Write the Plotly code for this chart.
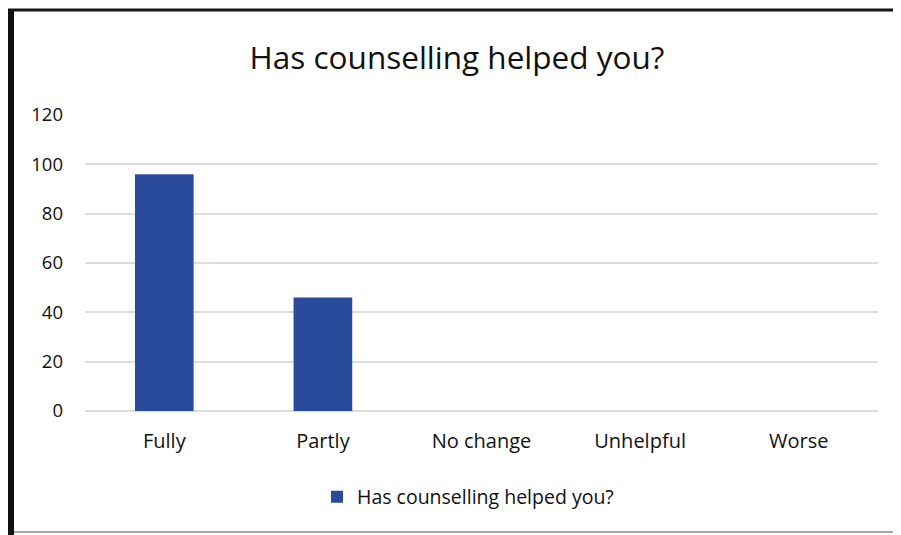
import plotly.graph_objects as go

categories = ["Fully", "Partly", "No change", "Unhelpful", "Worse"]
values = [96, 46, 0, 0, 0]
series_name = "Has counselling helped you?"
title_text = "Has counselling helped you?"
y_ticks = [0, 20, 40, 60, 80, 100, 120]

# page body has an 8px margin; compensate so the chart lands where the scan has it
OFF = 8
W, H = 901 - OFF, 535 - OFF
L, R, T, B = 85 - OFF, 23, 115 - OFF, 124
pw, ph = W - L - R, H - T - B

def px_x(x):  # screenshot x -> paper
    return (x - OFF - L) / pw

def px_y(y):  # screenshot y -> paper
    return (H - B - (y - OFF)) / ph

fig = go.Figure()
fig.add_trace(go.Bar(
    x=categories, y=values, name=series_name,
    marker=dict(color="#2A4B9B", line=dict(width=0)),
    showlegend=True,
))

font_family = "Open Sans, Liberation Sans, sans-serif"

fig.update_layout(
    width=W, height=H,
    margin=dict(l=L, r=R, t=T, b=B),
    paper_bgcolor="white", plot_bgcolor="white",
    bargap=0.63,
    title=dict(text=title_text, x=(457 - OFF) / W, xanchor="center",
               y=1 - (58 - OFF) / H, yanchor="middle",
               font=dict(family=font_family, size=31.5, color="#111111")),
    xaxis=dict(showgrid=False, showline=False, ticks="",
               tickfont=dict(family=font_family, size=20, color="#111111"),
               ticklabelstandoff=16),
    yaxis=dict(range=[0, 120], tickvals=y_ticks, showgrid=True,
               gridcolor="#dcdcdc", gridwidth=1.5, zeroline=True,
               zerolinecolor="#dcdcdc", zerolinewidth=1.5,
               tickfont=dict(family=font_family, size=18.5, color="#111111"),
               ticklabelstandoff=21, showline=False),
    legend=dict(orientation="h", x=px_x(468), xanchor="center",
                y=px_y(497), yanchor="middle",
                font=dict(family=font_family, size=19.5, color="#111111"),
                itemwidth=30, bgcolor="rgba(0,0,0,0)"),
    showlegend=True,
)

# chart frame from the scan: heavy left and top edges, faint bottom
fig.add_shape(type="line", xref="paper", yref="paper",
              x0=px_x(8), x1=px_x(901), y0=px_y(10), y1=px_y(10),
              line=dict(color="#151515", width=3), layer="above")
fig.add_shape(type="line", xref="paper", yref="paper",
              x0=px_x(11), x1=px_x(11), y0=px_y(535), y1=px_y(9),
              line=dict(color="#111111", width=6), layer="above")
fig.add_shape(type="line", xref="paper", yref="paper",
              x0=px_x(14), x1=px_x(901), y0=px_y(532), y1=px_y(532),
              line=dict(color="#a8a8a8", width=2), layer="above")

fig.write_html("out.html")
